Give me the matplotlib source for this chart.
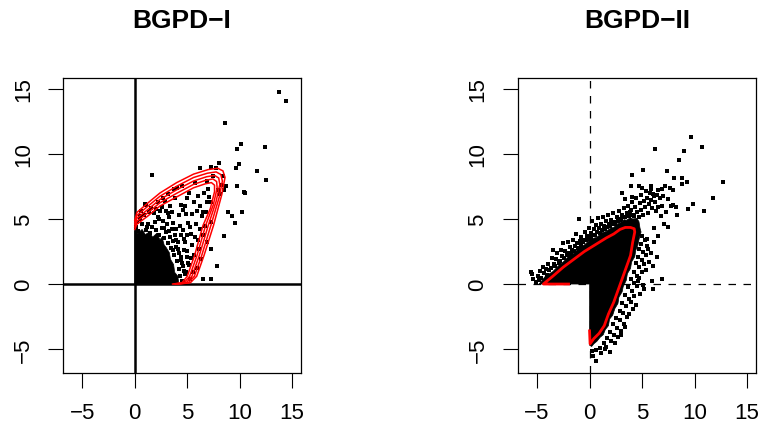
import numpy as np
import matplotlib
matplotlib.use("Agg")
from matplotlib import pyplot as plt

plt.rcParams['font.family'] = ['Liberation Sans', 'DejaVu Sans']

titles = ["BGPD\u2212I", "BGPD\u2212II"]
ticks = [-5, 0, 5, 10, 15]
tick_labels = ["\u22125", "0", "5", "10", "15"]
lims = (-6.84, 15.84)

# BGPD-I : solid core of the cloud (too dense to read single points)
core1_x = [0.0, 0.0, 0.3, 0.7, 1.0, 1.4, 1.7, 2.1, 2.4, 2.6, 2.8, 3.0, 3.3, 3.4, 3.7, 3.8, 4.1, 4.2, 0.0]
core1_y = [0.0, 4.1, 3.9, 4.2, 3.8, 4.0, 3.6, 3.9, 3.4, 3.6, 3.0, 2.8, 2.4, 1.9, 1.5, 0.9, 0.6, 0.0, 0.0]

# BGPD-I : single points around the core
pts1 = [(0.1,4.4),(0.35,4.05),(0.7,4.6),(0.45,5.0),(1.05,4.15),(1.25,4.65),(0.85,5.3),(1.6,4.35),
        (1.45,3.95),(2.05,4.15),(1.9,4.75),(2.35,3.75),(2.55,4.3),(2.2,5.15),(2.75,3.55),(2.95,4.0),
        (2.65,4.85),(3.15,3.15),(3.35,3.65),(3.05,4.6),(3.45,2.75),(3.65,3.3),(3.55,4.25),(3.75,2.25),
        (3.95,2.85),(3.85,3.75),(4.05,1.75),(4.25,2.35),(4.15,3.2),(4.25,1.15),(4.45,1.85),(4.35,0.65),
        (4.6,1.4),(4.55,0.25),(4.8,0.75),(5.05,1.65),(4.7,2.65),(4.95,2.1),(4.4,3.75),(4.65,3.45),
        (3.95,4.25),(3.25,5.15),(2.45,5.6),(1.85,5.45),(0.6,5.6),(1.35,5.55),(0.2,4.75),(1.15,4.4),
        (2.8,4.3),(3.3,4.1),(3.9,3.35),(4.1,2.7),(4.4,2.1),(3.6,2.6),(4.7,1.0),(4.5,1.6),
        (3.0,5.6),(3.4,6.0),(2.6,5.9),(2.0,5.75),(1.5,5.85),(1.0,6.15),(2.9,6.35),(4.2,5.3),
        (4.55,4.15),(4.8,3.25),(5.0,2.55),(5.2,1.45),(5.1,4.7),(5.4,3.85),(5.5,5.4),(4.4,6.1),
        (3.8,6.6),(4.0,7.4),(3.7,7.3),(5.0,6.6),(5.6,6.3),(5.9,5.6),(6.2,6.0),(6.4,5.2),
        (5.8,4.6),(6.0,3.4),(6.5,3.8),(6.8,5.5),(6.9,6.3),(7.3,6.3),(6.6,7.0),(7.0,7.3),
        (5.7,7.8),(6.2,8.9),(7.3,9.0),(7.7,8.9),(8.4,8.3),(8.2,7.6),(8.7,7.5),(8.5,7.2),
        (8.1,6.9),(6.5,5.5),(6.7,4.5),(7.3,4.8),(5.6,2.2),(5.9,1.2),(6.3,1.9),(5.3,0.4),
        (4.9,0.9),(7.3,2.7),(7.8,1.4),(6.5,0.4),(7.3,0.4),(8.5,3.7),(8.9,5.5),(9.3,5.2),
        (9.55,4.7),(10.2,5.5),(10.4,7.1),(10.5,7.0),(9.75,7.5),(9.6,8.9),(9.9,9.2),(8.0,9.3),
        (11.65,8.7),(12.5,8.0),(12.4,10.5),(9.75,10.4),(10.1,10.8),(8.6,12.4),(13.75,14.8),
        (14.45,14.1),(1.65,8.4),(1.1,6.1),(4.5,7.5),(5.2,7.0),(4.8,6.0),(6.0,6.8),(3.2,6.9),
        (2.2,6.3),(6.9,7.9),(7.5,8.3),(7.1,6.7),(7.9,7.2),(6.2,4.2),(6.9,3.2),(5.5,3.0),
        (6.1,2.7),(4.9,5.4),(0.5,5.2),(2.3,5.0),(3.6,4.7),(4.3,4.45),(5.3,4.4),(5.7,3.6),
        (5.0,3.8),(5.35,2.0),(4.5,0.2),(5.55,0.9),(3.2,5.45),(2.7,6.6),(4.6,5.7),(3.5,5.5)]

# BGPD-I : nested density contours (outer -> inner)
cont_x = [
    [0.0, 0.2, 1.2, 2.4, 4.0, 5.6, 7.00, 7.90, 8.40, 8.60, 8.30, 7.50, 6.60, 5.90, 5.30, 4.20],
    [0.0, 0.2, 1.2, 2.4, 4.0, 5.6, 6.92, 7.75, 8.20, 8.35, 8.03, 7.25, 6.38, 5.68, 5.10, 4.05],
    [0.0, 0.2, 1.2, 2.4, 4.0, 5.6, 6.85, 7.60, 8.00, 8.10, 7.75, 7.00, 6.15, 5.45, 4.90, 3.90],
    [0.0, 0.2, 1.2, 2.4, 4.0, 5.6, 6.78, 7.45, 7.80, 7.85, 7.48, 6.75, 5.93, 5.23, 4.70, 3.75],
    [0.0, 0.2, 1.2, 2.4, 4.0, 5.6, 6.70, 7.30, 7.60, 7.60, 7.20, 6.50, 5.70, 5.00, 4.50, 3.60],
]
cont_y = [
    [4.90, 5.50, 6.20, 7.00, 7.80, 8.45, 8.80, 8.90, 8.70, 8.20, 6.90, 4.5, 2.2, 0.6, 0.1, 0.0],
    [4.72, 5.27, 5.95, 6.75, 7.52, 8.19, 8.52, 8.62, 8.42, 7.92, 6.63, 4.5, 2.2, 0.6, 0.1, 0.0],
    [4.55, 5.05, 5.70, 6.50, 7.25, 7.92, 8.25, 8.35, 8.15, 7.65, 6.35, 4.5, 2.2, 0.6, 0.1, 0.0],
    [4.38, 4.82, 5.45, 6.25, 6.98, 7.66, 7.98, 8.08, 7.88, 7.38, 6.08, 4.5, 2.2, 0.6, 0.1, 0.0],
    [4.20, 4.60, 5.20, 6.00, 6.70, 7.40, 7.70, 7.80, 7.60, 7.10, 5.80, 4.5, 2.2, 0.6, 0.1, 0.0],
]

# BGPD-II : visible part of the density contour
cont2_x = [-2.0, -4.4, -3.5, -2.5, -1.5, -0.5, 0.7, 1.6, 2.3, 2.9, 3.4, 3.9, 4.25, 4.3, 4.1, 3.9,
           3.5, 3.1, 2.7, 2.3, 1.8, 1.4, 0.9, 0.4, 0.05, 0.0]
cont2_y = [0.0, 0.0, 0.6, 1.3, 1.9, 2.5, 3.1, 3.55, 3.85, 4.2, 4.35, 4.35, 4.25, 4.0, 3.2, 2.2,
           1.3, 0.4, -0.5, -1.4, -2.3, -3.2, -3.8, -4.2, -4.6, -3.6]

# BGPD-II : solid black band of points (inside and just around the contour)
dense2_x = [-4.8, -4.2, -3.5, -2.9, -2.5, -1.9, -1.5, -0.9, -0.5, 0.1, 0.7, 1.2, 1.6, 2.0, 2.3,
            2.7, 2.9, 3.3, 3.5, 3.9, 4.1, 4.5, 4.7, 4.8, 4.9, 4.7, 4.6, 4.4, 4.3, 4.0, 3.9,
            3.6, 3.5, 3.2, 3.1, 2.8, 2.7, 2.4, 2.2, 1.9, 1.8, 1.5, 1.3, 1.0, 0.7, 0.4, 0.2,
            0.0, 0.0, -4.8]
dense2_y = [0.0, 0.6, 0.95, 1.45, 1.7, 2.2, 2.35, 2.85, 3.0, 3.45, 3.6, 3.95, 4.05, 4.3, 4.35,
            4.65, 4.7, 4.95, 4.9, 5.1, 5.0, 5.05, 4.8, 4.3, 4.0, 3.4, 3.0, 2.6, 2.1, 1.7, 1.2,
            0.8, 0.3, -0.2, -0.6, -1.0, -1.5, -1.9, -2.4, -2.7, -3.2, -3.5, -3.9, -4.1, -4.4,
            -4.6, -4.8, -4.7, 0.0, 0.0]

# BGPD-II : single points outside the dense part
pts2 = [(-5.6,0.93),(-5.5,0.77),(-5.35,0.42),(-5.1,0.18),(-4.95,0.62),(-4.85,0.31),(-4.75,1.02),
        (-4.62,0.47),(-4.45,1.28),(-4.33,0.83),(-4.18,1.12),(-4.05,0.71),(-3.98,1.52),(-3.82,1.05),
        (-3.7,1.24),(-3.58,2.02),(-3.45,2.6),(-3.38,1.55),(-3.27,1.41),(-3.15,1.93),(-3.08,2.38),
        (-2.92,1.62),(-2.81,1.79),(-2.75,2.62),(-2.63,2.13),(-2.52,3.18),(-2.46,1.98),(-2.33,2.52),
        (-2.18,2.21),(-2.1,3.2),(-1.97,2.37),(-1.88,2.83),(-1.76,2.29),(-1.68,2.61),(-1.58,3.38),
        (-1.47,2.51),(-1.38,2.94),(-1.25,3.85),(-1.21,3.12),(-1.07,2.79),(-1.0,4.97),(-0.95,3.3),
        (-0.84,3.02),(-0.77,3.62),(-0.63,3.24),(-0.55,3.41),(-0.48,4.02),(-0.36,3.37),(-0.27,3.66),
        (-0.15,3.49),(-0.08,4.31),(0.04,3.51),(0.1,3.92),(0.18,3.65),(0.22,4.83),(0.31,3.79),
        (0.38,4.24),(0.5,3.78),(0.57,4.52),(0.68,3.98),(0.77,5.04),(0.86,4.27),(0.97,3.92),
        (1.06,4.63),(1.18,4.18),(1.27,5.12),(1.36,4.46),(1.48,4.22),(1.57,4.84),(1.66,4.37),
        (1.78,5.31),(1.87,4.64),(1.99,4.49),(2.08,4.93),(2.14,4.61),(2.27,5.48),(2.39,4.77),
        (2.46,4.65),(2.58,5.14),(2.67,4.88),(2.77,5.62),(2.88,4.96),(2.97,5.0),(3.07,5.33),
        (3.1,7.0),(3.19,5.12),(3.27,5.82),(3.36,5.18),(3.41,6.5),(3.52,5.45),(3.63,6.02),
        (3.74,5.21),(3.86,5.5),(3.93,5.72),(4.0,6.7),(4.07,6.3),(4.16,5.33),(4.27,5.26),
        (4.33,5.93),(4.44,6.61),(4.53,5.52),(4.68,5.18),(4.7,7.5),(4.78,6.22),(4.86,5.71),
        (4.94,6.88),(5.0,7.4),(5.06,5.33),(5.1,8.77),(5.17,6.42),(5.26,5.92),(5.34,7.18),
        (5.43,6.61),(5.57,5.44),(5.63,6.13),(5.74,7.02),(5.8,7.5),(5.83,7.27),(5.88,6.48),
        (5.96,5.83),(6.04,6.93),(6.12,6.76),(6.15,4.3),(6.22,10.4),(6.27,6.31),(6.36,5.58),
        (6.42,6.82),(6.47,7.22),(6.56,5.92),(6.66,6.63),(6.8,5.2),(6.9,7.3),(6.94,6.01),
        (7.03,6.78),(7.1,4.6),(7.2,7.5),(7.3,5.5),(7.4,8.67),(7.5,6.5),(7.5,4.4),(7.7,7.4),
        (7.72,6.02),(7.9,7.2),(7.96,6.1),(8.03,8.16),(8.2,5.9),(8.3,5.3),(8.5,9.5),(8.75,8.16),
        (8.75,7.67),(9.0,10.26),(9.24,7.87),(9.33,5.77),(9.65,11.28),(9.85,6.13),(10.67,10.5),
        (10.9,5.64),(11.77,6.59),(12.7,7.82),(4.03,8.36),(3.97,7.5),
        (5.0,3.7),(5.3,3.4),(4.9,3.1),(5.5,2.9),(4.7,2.7),(5.1,2.45),(5.6,2.7),(4.6,2.1),
        (4.95,1.85),(5.4,2.2),(6.38,2.05),(4.4,1.6),(4.7,1.3),(5.2,1.55),(5.7,1.7),(4.2,0.9),
        (4.55,0.65),(5.0,0.95),(5.4,1.1),(3.95,0.35),(4.25,0.1),(4.7,0.45),(6.9,0.38),(3.7,-0.25),
        (4.05,-0.5),(4.5,-0.15),(4.8,-0.76),(5.2,-0.38),(6.0,-0.38),(3.4,-0.85),(3.75,-1.15),
        (4.2,-0.9),(3.1,-1.45),(3.5,-1.7),(3.9,-1.4),(2.85,-2.05),(3.2,-2.25),(3.55,-2.5),
        (2.55,-2.6),(2.9,-2.8),(3.25,-3.05),(2.25,-3.1),(2.6,-3.35),(2.95,-3.6),(1.95,-3.65),
        (2.3,-3.9),(1.7,-4.15),(2.0,-4.35),(2.4,-4.54),(1.35,-4.55),(1.6,-4.85),(0.95,-4.9),
        (0.6,-5.05),(0.35,-5.5),(0.2,-5.15),(0.57,-5.9),(1.1,-5.3),(1.5,-5.0),(5.5,3.5),
        (6.1,3.2),(5.8,2.4),(6.5,3.7),(6.0,1.4),(5.9,0.2),(5.1,-0.1),(4.4,-1.6),(3.8,-2.3),
        (3.4,-3.3),(2.7,-4.1),(1.9,-5.2),(4.6,0.2),(4.1,-1.9),(3.0,-3.9)]


def style_axes(ax):
    ax.set_xlim(lims)
    ax.set_ylim(lims)
    ax.set_xticks(ticks)
    ax.set_yticks(ticks)
    ax.set_xticklabels(tick_labels)
    ax.set_yticklabels(tick_labels)
    ax.tick_params(direction='out', length=11, width=0.8, labelsize=16, pad=10)
    ax.tick_params(axis='y', labelrotation=90)
    for lab in ax.get_yticklabels():
        lab.set_va('center')
    for s in ax.spines.values():
        s.set_linewidth(0.9)


fig = plt.figure(figsize=(7.62, 4.31), dpi=100)
ax1 = fig.add_axes([63/762, 57/431, 238/762, 295/431])
ax2 = fig.add_axes([517.7/762, 57/431, 238.3/762, 295/431])

# left panel
p1 = np.array(pts1)
ax1.fill(core1_x, core1_y, color='black', lw=0.5)
ax1.plot(p1[:, 0], p1[:, 1], ls='none', marker='s', ms=2.3, mew=0, color='black')
ax1.axhline(0, color='black', lw=1.8)
ax1.axvline(0, color='black', lw=1.8)
for cx, cy in zip(cont_x, cont_y):
    ax1.plot(cx, cy, color='red', lw=1.1)
style_axes(ax1)
ax1.set_title(titles[0], fontsize=19, fontweight='bold', pad=37)

# right panel
p2 = np.array(pts2)
ax2.axhline(0, color='black', lw=0.9, dashes=(6, 6))
ax2.axvline(0, color='black', lw=0.9, dashes=(6, 6))
ax2.fill(dense2_x, dense2_y, color='black', lw=0.5)
ax2.plot(p2[:, 0], p2[:, 1], ls='none', marker='s', ms=2.3, mew=0, color='black')
ax2.plot(cont2_x, cont2_y, color='red', lw=2.0)
style_axes(ax2)
ax2.set_title(titles[1], fontsize=19, fontweight='bold', pad=37)

fig.savefig("out.png", dpi=100)
